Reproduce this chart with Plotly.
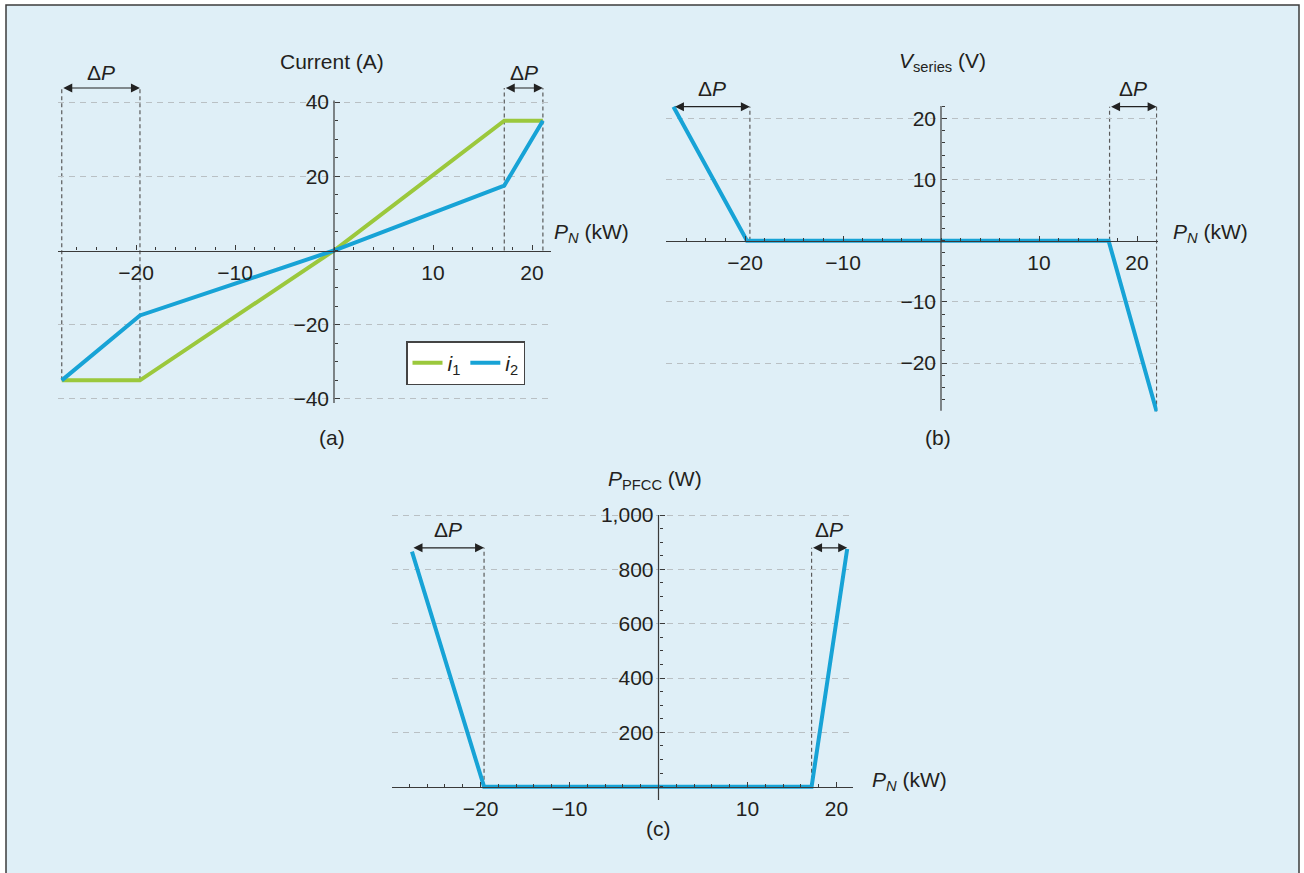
import plotly.graph_objects as go

W, H = 1304, 873

# ---------------- data ----------------
# Panel (a): currents vs P_N
a_pn = [-27.5, -19.6, 0, 17.2, 21.1]
a_i1 = [-35, -35, 0, 35, 35]
a_i2 = [-35, -17.5, 0, 17.5, 35]
a_dp_left = [-27.5, -19.6]
a_dp_right = [17.2, 21.1]

# Panel (b): V_series vs P_N
b_pn = [-27.3, -19.8, 17.1, 22.0]
b_v = [21.9, 0, 0, -27.9]
b_dp_left = [-27.3, -19.5]
b_dp_right = [17.2, 22.0]

# Panel (c): P_PFCC vs P_N
c_pn = [-27.7, -19.6, 17.2, 21.2]
c_p = [865, 0, 0, 875]
c_dp_left = [-27.7, -19.6]
c_dp_right = [17.2, 21.2]

x_major = [-20, -10, 10, 20]
a_y_major = [-40, -20, 20, 40]
b_y_major = [-20, -10, 10, 20]
c_y_major = [200, 400, 600, 800, 1000]
c_y_text = ["200", "400", "600", "800", "1,000"]

# ---------------- styling / geometry ----------------
FONT = "Liberation Sans, Arial, Helvetica, sans-serif"
TXT = "#231f20"
AXC = "#3a3a3a"
GREEN = "#9bc83c"
BLUE = "#17a3d6"
BG = "#dfeff7"
GRID = "#b9c0c4"
DASH = "#5a5a5a"
FS = 21
FT = 21

# panel geometry: pixel of zero, pixels per unit, ranges
P = {
    "a": dict(x0=334, kx=9.9, xr=[-27.9, 21.9], y0=250.5, ky=3.71, yr=[-41.5, 44.5], yline=[-41.1, 40.4]),
    "b": dict(x0=941, kx=9.8, xr=[-28.1, 22.1], y0=240.7, ky=6.12, yr=[-27.95, 22.6], yline=[-27.8, 22.0]),
    "c": dict(x0=658.5, kx=8.9, xr=[-29.9, 21.9], y0=786.7, ky=0.2717, yr=[-49.5, 1010], yline=[-49, 1000]),
}


def fx(px):
    return px / W


def fy(py):
    return 1 - py / H


fig = go.Figure()

axes_ids = {"a": ("x", "y", "xaxis", "yaxis"),
            "b": ("x2", "y2", "xaxis2", "yaxis2"),
            "c": ("x3", "y3", "xaxis3", "yaxis3")}

y_cfg = {
    "a": dict(tickvals=a_y_major, minor_dtick=5),
    "b": dict(tickvals=b_y_major, minor_dtick=2),
    "c": dict(tickvals=c_y_major, minor_dtick=50, ticktext=c_y_text),
}

layout_axes = {}
shapes = []
annotations = []

for key, g in P.items():
    xa, ya, xname, yname = axes_ids[key]
    xd = [fx(g["x0"] + g["kx"] * g["xr"][0]), fx(g["x0"] + g["kx"] * g["xr"][1])]
    yd = [fy(g["y0"] - g["ky"] * g["yr"][0]), fy(g["y0"] - g["ky"] * g["yr"][1])]
    zero_fy = fy(g["y0"])
    zero_fx = fx(g["x0"])
    layout_axes[xname] = dict(
        domain=xd, range=g["xr"], anchor="free", position=zero_fy, automargin=False,
        showgrid=False, zeroline=False, showline=True, linecolor=AXC, linewidth=1.2,
        tickmode="array", tickvals=x_major, ticks="inside", ticklen=5, tickcolor=AXC,
        tickwidth=1, tickfont=dict(family=FONT, size=FS, color=TXT),
        minor=dict(tick0=0, dtick=2, ticks="inside", ticklen=3, tickcolor=AXC, tickwidth=1),
        ticklabelstandoff=3, fixedrange=True,
    )
    yc = y_cfg[key]
    ydict = dict(
        domain=yd, range=g["yr"], anchor="free", position=zero_fx, automargin=False,
        showgrid=True, gridcolor=GRID, griddash="6px,5px", gridwidth=1,
        zeroline=False, showline=False,
        tickmode="array", tickvals=yc["tickvals"], ticks="inside", ticklen=5, tickcolor=AXC,
        tickwidth=1, tickfont=dict(family=FONT, size=FS, color=TXT),
        minor=dict(tick0=0, dtick=yc["minor_dtick"], ticks="inside", ticklen=3, tickcolor=AXC, tickwidth=1),
        ticklabelstandoff=5, fixedrange=True,
    )
    if "ticktext" in yc:
        ydict["ticktext"] = yc["ticktext"]
    layout_axes[yname] = ydict
    # y axis line
    shapes.append(dict(type="line", xref=xa, yref=ya, x0=0, x1=0, y0=g["yline"][0], y1=g["yline"][1],
                       line=dict(color=AXC, width=1.2), layer="above"))

# ---------------- traces ----------------
fig.add_trace(go.Scatter(x=a_pn, y=a_i1, mode="lines", name="<i>i</i><sub>1</sub>",
                         line=dict(color=GREEN, width=4), xaxis="x", yaxis="y", cliponaxis=False))
fig.add_trace(go.Scatter(x=a_pn, y=a_i2, mode="lines", name="<i>i</i><sub>2</sub>",
                         line=dict(color=BLUE, width=4), xaxis="x", yaxis="y", cliponaxis=False))
fig.add_trace(go.Scatter(x=b_pn, y=b_v, mode="lines", showlegend=False,
                         line=dict(color=BLUE, width=4), xaxis="x2", yaxis="y2", cliponaxis=False))
fig.add_trace(go.Scatter(x=c_pn, y=c_p, mode="lines", showlegend=False,
                         line=dict(color=BLUE, width=4), xaxis="x3", yaxis="y3", cliponaxis=False))

# ---------------- ΔP markers ----------------
def vdash(xa, ya, x, y0, y1):
    shapes.append(dict(type="line", xref=xa, yref=ya, x0=x, x1=x, y0=y0, y1=y1,
                       line=dict(color=DASH, width=1.2, dash="4px,3px"), layer="below"))


def dp_arrow(xa, ya, x1, x2, y, shift):
    annotations.append(dict(xref=xa, yref=ya, x=x2, y=y, ax=x1, ay=y, axref=xa, ayref=ya,
                            text="", showarrow=True, arrowhead=2, startarrowhead=2,
                            arrowside="end+start", arrowsize=1.5, arrowwidth=1.2,
                            arrowcolor="#222222", startstandoff=0, standoff=0))
    annotations.append(dict(xref=xa, yref=ya, x=(x1 + x2) / 2, y=y, yshift=shift,
                            text="Δ<i>P</i>", showarrow=False,
                            font=dict(family=FONT, size=FT, color=TXT)))


# panel a
a_arrow_y = 43.8
vdash("x", "y", a_dp_left[0], a_i1[0], a_arrow_y)
vdash("x", "y", a_dp_left[1], a_i1[1], a_arrow_y)
vdash("x", "y", a_dp_right[0], 0, a_arrow_y)
vdash("x", "y", a_dp_right[1], 0, a_arrow_y)
dp_arrow("x", "y", a_dp_left[0], a_dp_left[1], a_arrow_y, 16)
dp_arrow("x", "y", a_dp_right[0], a_dp_right[1], a_arrow_y, 16)

# panel b
b_arrow_y = 21.9
vdash("x2", "y2", b_dp_left[1], 0, b_arrow_y)
vdash("x2", "y2", b_dp_right[0], 0, b_arrow_y)
vdash("x2", "y2", b_dp_right[1], b_v[-1], b_arrow_y)
dp_arrow("x2", "y2", b_dp_left[0], b_dp_left[1], b_arrow_y, 18)
dp_arrow("x2", "y2", b_dp_right[0], b_dp_right[1], b_arrow_y, 18)

# panel c
c_arrow_y = 879
vdash("x3", "y3", c_dp_left[1], 0, c_arrow_y)
vdash("x3", "y3", c_dp_right[0], 0, c_arrow_y)
dp_arrow("x3", "y3", c_dp_left[0], c_dp_left[1], c_arrow_y, 18)
dp_arrow("x3", "y3", c_dp_right[0], c_dp_right[1], c_arrow_y, 18)

# ---------------- labels ----------------
def label(text, px, py, xanchor="center"):
    annotations.append(dict(xref="paper", yref="paper", x=fx(px), y=fy(py), text=text,
                            showarrow=False, xanchor=xanchor, yanchor="middle",
                            font=dict(family=FONT, size=FT, color=TXT)))


PN = "<i>P</i><sub><i>N</i></sub> (kW)"
label("Current (A)", 332, 62)
label(PN, 552, 233, "left")
label("(a)", 332, 437)
label("<i>V</i><sub>series</sub> (V)", 942, 62)
label(PN, 1171, 233, "left")
label("(b)", 938, 437)
label("<i>P</i><sub>PFCC</sub> (W)", 655, 480)
label(PN, 870, 781, "left")
label("(c)", 658, 828)

# background frame
shapes.insert(0, dict(type="rect", xref="paper", yref="paper", x0=fx(6), x1=fx(1299), y0=fy(890), y1=fy(5),
                      fillcolor=BG, line=dict(color="#3c3c3c", width=1.5), layer="below"))

fig.update_layout(
    width=W, height=H, margin=dict(l=0, r=0, t=0, b=0, pad=0, autoexpand=False),
    paper_bgcolor="white", plot_bgcolor="rgba(0,0,0,0)",
    shapes=shapes, annotations=annotations,
    showlegend=True,
    legend=dict(x=fx(406), y=fy(341), xanchor="left", yanchor="top", orientation="h",
                bgcolor="white", bordercolor="#444444", borderwidth=1.5,
                font=dict(family=FONT, size=FT, color=TXT), itemwidth=30,
                tracegroupgap=0),
    font=dict(family=FONT, size=FS, color=TXT),
    **layout_axes,
)

post = (
    "document.documentElement.style.margin='0';"
    "document.body.style.margin='0';document.body.style.padding='0';"
    "var d=document.getElementsByClassName('plotly-graph-div')[0];"
    "d.style.position='absolute';d.style.top='0px';d.style.left='0px';"
)
fig.write_html("out.html", post_script=post, config={"displayModeBar": False})
